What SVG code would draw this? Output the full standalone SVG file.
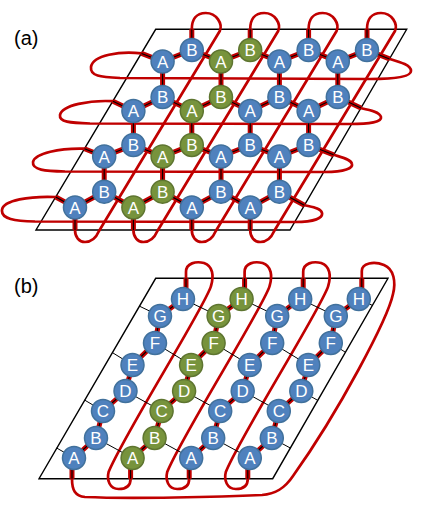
<svg xmlns="http://www.w3.org/2000/svg" width="436" height="505" viewBox="0 0 436 505">
<style>
.frame{fill:none;stroke:#000;stroke-width:1.4}
.loop{fill:none;stroke:#C00000;stroke-width:2.7;stroke-linecap:round;stroke-linejoin:round}
.lr{fill:none;stroke:#C00000;stroke-width:5}
.lb{fill:none;stroke:#000;stroke-width:1.1}
.thin{fill:none;stroke:#000;stroke-width:1}
.b circle{fill:#4F81BD;stroke:#41719C;stroke-width:1.5}
.g circle{fill:#77933C;stroke:#5E7530;stroke-width:1.5}
text{font-family:"Liberation Sans",Arial,sans-serif}
.n text{fill:#fff;font-size:17px;text-anchor:middle}
.lab{font-size:20px;fill:#000}
</style>
<defs>
<path id="linksA" d="M141.5 53.4 L162.6 61.5 L191.8 50 L221 61.5 L250.2 50 L279.4 61.5 L308.6 50 L337.8 61.5 L367 50 L389.5 58.9
M112.9 101.2 L133.4 111 L162.6 97 L191.8 111 L221 97 L250.2 111 L279.4 97 L308.6 111 L337.8 97 L360.9 108.1
M84.5 148.7 L104.2 156.5 L133.4 145 L162.6 156.5 L191.8 145 L221 156.5 L250.2 145 L279.4 156.5 L308.6 145 L333.6 154.8
M55.7 197 L75 207.5 L104.2 191.7 L133.4 207.5 L162.6 191.7 L191.8 207.5 L221 191.7 L250.2 207.5 L279.4 191.7 L304.4 205.2
M191.8 50 V29.3 M250.2 50 V29.3 M308.6 50 V29.3 M367 50 V29.3
M162.6 61.5 V97 M221 61.5 V97 M279.4 61.5 V97 M337.8 61.5 V97
M133.4 111 V145 M191.8 111 V145 M250.2 111 V145 M308.6 111 V145
M104.2 156.5 V191.7 M162.6 156.5 V191.7 M221 156.5 V191.7 M279.4 156.5 V191.7
M75 207.5 V230 M133.4 207.5 V230 M191.8 207.5 V230 M250.2 207.5 V230"/>
<path id="linksB" d="M72 458 V478.7 M74 458 L96 438 L103 411 L125.5 391 L132.5 365 L155 343 L160 316 L183 299 M186 299 V278.3
M130.6 458 V478.7 M132.6 458 L154.6 438 L161.6 411 L184.1 391 L191.1 365 L213.6 343 L218.6 316 L241.6 299 M244.6 299 V278.3
M189.2 458 V478.7 M191.2 458 L213.2 438 L220.2 411 L242.7 391 L249.7 365 L272.2 343 L277.2 316 L300.2 299 M303.2 299 V278.3
M247.8 458 V478.7 M249.8 458 L271.8 438 L278.8 411 L301.3 391 L308.3 365 L330.8 343 L335.8 316 L358.8 299 M361.8 299 V278.3"/>
</defs>

<text class="lab" x="14" y="45">(a)</text>
<text class="lab" x="14" y="293">(b)</text>

<g id="frames">
<path class="frame" d="M155.7 29.3 L406.7 29.3 L290 230 L36 230 Z"/>
<path class="frame" d="M155.7 278.3 L388 278.3 L272.7 478.7 L39 478.7 Z"/>
</g>

<g id="connectors">
<g id="loops-a">
<path class="loop" d="M141.5 53.4 C120 51 93 55 91 67 C90 76 100 77 120 78 L370 79 C395 79 411 77 411 71 C411 65 400 62 389.5 58.9"/>
<path class="loop" d="M112.9 101.2 C90 100 62 105 60 115 C59 122 70 123 90 123.5 L350 124 C370 124 382 122 381 117 C380 112 370 110 360.9 108.1"/>
<path class="loop" d="M84.5 148.7 C60 148 35 153 33 162 C32 170 45 171 65 171.5 L325 172 C345 172 353 168 352 164 C351 159 340 157 333.6 154.8"/>
<path class="loop" d="M55.7 197 C30 196 3 200 2 210 C1 219 15 221 35 221.5 L295 222 C315 222 323 218 322 213 C321 208 312 207 304.4 205.2"/>
<path class="loop" d="M75 230 C75 237 79 242 85 242 C91 242 96 238 99 231 L219.8 31 C222.8 24 216.8 13 205.8 13 C195.8 13 191.8 20 191.8 29.3"/>
<path class="loop" d="M133.4 230 C133.4 237 137.4 242 143.4 242 C149.4 242 154.4 238 157.4 231 L278.2 31 C281.2 24 275.2 13 264.2 13 C254.2 13 250.2 20 250.2 29.3"/>
<path class="loop" d="M191.8 230 C191.8 237 195.8 242 201.8 242 C207.8 242 212.8 238 215.8 231 L336.6 31 C339.6 24 333.6 13 322.6 13 C312.6 13 308.6 20 308.6 29.3"/>
<path class="loop" d="M250.2 230 C250.2 237 254.2 242 260.2 242 C266.2 242 271.2 238 274.2 231 L395 31 C398 24 392 13 381 13 C371 13 367 20 367 29.3"/>
</g>
<g id="loops-b">
<path class="loop" d="M186 278.3 L186 272 C186 263 196 261 204 263 C213 266 214 276 211 286 C206 305 123 436 108.6 472 C106.6 480 109.6 489 118.6 489 C126.6 489 130.6 485 130.6 478.7"/>
<path class="loop" d="M244.6 278.3 L244.6 272 C244.6 263 254.6 261 262.6 263 C271.6 266 272.6 276 269.6 286 C264.6 305 181.6 436 167.2 472 C165.2 480 168.2 489 177.2 489 C185.2 489 189.2 485 189.2 478.7"/>
<path class="loop" d="M303.2 278.3 L303.2 272 C303.2 263 313.2 261 321.2 263 C330.2 266 331.2 276 328.2 286 C323.2 305 240.2 436 225.8 472 C223.8 480 226.8 489 235.8 489 C243.8 489 247.8 485 247.8 478.7"/>
<path class="loop" d="M361.8 278.3 L361.8 271 C361.8 263 374 261 384 265 C394 269 396 282 393 294 C388 318 340 410 293 476 C285 488 276 494 262 495 C220 497 130 499 85 497 C75 496 72 490 72 478.7"/>
</g>
<g id="bonds-b-thin">
<path class="thin" d="M56.7 448 L74 458 M84.7 400.1 L103 411 M112.4 352.6 L132.5 365 M139.5 306.2 L160 316
M96 438 L132.6 458 M125.5 391 L161.6 411 M155 343 L191.1 365 M183 299 L218.6 316
M154.6 438 L191.2 458 M184.1 391 L220.2 411 M213.6 343 L249.7 365 M241.6 299 L277.2 316
M213.2 438 L249.8 458 M242.7 391 L278.8 411 M272.2 343 L308.3 365 M300.2 299 L335.8 316
M271.8 438 L290.3 448 M301.3 391 L317.8 400.4 M330.8 343 L345.5 352.3 M358.8 299 L372.4 305.4"/>
</g>
<g id="bonds">
<use href="#linksA" class="lr"/><use href="#linksA" class="lb"/>
<use href="#linksB" class="lr"/><use href="#linksB" class="lb"/>
</g>
</g>

<g id="nodes-a">
<g id="a0-0" class="n b"><circle cx="162.6" cy="61.5" r="11.5"/><text x="162.6" y="67.5">A</text></g>
<g id="a0-1" class="n b"><circle cx="191.8" cy="50" r="11.5"/><text x="191.8" y="56">B</text></g>
<g id="a0-2" class="n g"><circle cx="221" cy="61.5" r="11.5"/><text x="221" y="67.5">A</text></g>
<g id="a0-3" class="n g"><circle cx="250.2" cy="50" r="11.5"/><text x="250.2" y="56">B</text></g>
<g id="a0-4" class="n b"><circle cx="279.4" cy="61.5" r="11.5"/><text x="279.4" y="67.5">A</text></g>
<g id="a0-5" class="n b"><circle cx="308.6" cy="50" r="11.5"/><text x="308.6" y="56">B</text></g>
<g id="a0-6" class="n b"><circle cx="337.8" cy="61.5" r="11.5"/><text x="337.8" y="67.5">A</text></g>
<g id="a0-7" class="n b"><circle cx="367" cy="50" r="11.5"/><text x="367" y="56">B</text></g>

<g id="a1-0" class="n b"><circle cx="133.4" cy="111" r="11.5"/><text x="133.4" y="117">A</text></g>
<g id="a1-1" class="n b"><circle cx="162.6" cy="97" r="11.5"/><text x="162.6" y="103">B</text></g>
<g id="a1-2" class="n g"><circle cx="191.8" cy="111" r="11.5"/><text x="191.8" y="117">A</text></g>
<g id="a1-3" class="n g"><circle cx="221" cy="97" r="11.5"/><text x="221" y="103">B</text></g>
<g id="a1-4" class="n b"><circle cx="250.2" cy="111" r="11.5"/><text x="250.2" y="117">A</text></g>
<g id="a1-5" class="n b"><circle cx="279.4" cy="97" r="11.5"/><text x="279.4" y="103">B</text></g>
<g id="a1-6" class="n b"><circle cx="308.6" cy="111" r="11.5"/><text x="308.6" y="117">A</text></g>
<g id="a1-7" class="n b"><circle cx="337.8" cy="97" r="11.5"/><text x="337.8" y="103">B</text></g>

<g id="a2-0" class="n b"><circle cx="104.2" cy="156.5" r="11.5"/><text x="104.2" y="162.5">A</text></g>
<g id="a2-1" class="n b"><circle cx="133.4" cy="145" r="11.5"/><text x="133.4" y="151">B</text></g>
<g id="a2-2" class="n g"><circle cx="162.6" cy="156.5" r="11.5"/><text x="162.6" y="162.5">A</text></g>
<g id="a2-3" class="n g"><circle cx="191.8" cy="145" r="11.5"/><text x="191.8" y="151">B</text></g>
<g id="a2-4" class="n b"><circle cx="221" cy="156.5" r="11.5"/><text x="221" y="162.5">A</text></g>
<g id="a2-5" class="n b"><circle cx="250.2" cy="145" r="11.5"/><text x="250.2" y="151">B</text></g>
<g id="a2-6" class="n b"><circle cx="279.4" cy="156.5" r="11.5"/><text x="279.4" y="162.5">A</text></g>
<g id="a2-7" class="n b"><circle cx="308.6" cy="145" r="11.5"/><text x="308.6" y="151">B</text></g>

<g id="a3-0" class="n b"><circle cx="75" cy="207.5" r="11.5"/><text x="75" y="213.5">A</text></g>
<g id="a3-1" class="n b"><circle cx="104.2" cy="191.7" r="11.5"/><text x="104.2" y="197.7">B</text></g>
<g id="a3-2" class="n g"><circle cx="133.4" cy="207.5" r="11.5"/><text x="133.4" y="213.5">A</text></g>
<g id="a3-3" class="n g"><circle cx="162.6" cy="191.7" r="11.5"/><text x="162.6" y="197.7">B</text></g>
<g id="a3-4" class="n b"><circle cx="191.8" cy="207.5" r="11.5"/><text x="191.8" y="213.5">A</text></g>
<g id="a3-5" class="n b"><circle cx="221" cy="191.7" r="11.5"/><text x="221" y="197.7">B</text></g>
<g id="a3-6" class="n b"><circle cx="250.2" cy="207.5" r="11.5"/><text x="250.2" y="213.5">A</text></g>
<g id="a3-7" class="n b"><circle cx="279.4" cy="191.7" r="11.5"/><text x="279.4" y="197.7">B</text></g>
</g>

<g id="nodes-b">
<g id="b1-A" class="n b"><circle cx="74" cy="458" r="11.5"/><text x="74" y="464">A</text></g>
<g id="b1-B" class="n b"><circle cx="96" cy="438" r="11.5"/><text x="96" y="444">B</text></g>
<g id="b1-C" class="n b"><circle cx="103" cy="411" r="11.5"/><text x="103" y="417">C</text></g>
<g id="b1-D" class="n b"><circle cx="125.5" cy="391" r="11.5"/><text x="125.5" y="397">D</text></g>
<g id="b1-E" class="n b"><circle cx="132.5" cy="365" r="11.5"/><text x="132.5" y="371">E</text></g>
<g id="b1-F" class="n b"><circle cx="155" cy="343" r="11.5"/><text x="155" y="349">F</text></g>
<g id="b1-G" class="n b"><circle cx="160" cy="316" r="11.5"/><text x="160" y="322">G</text></g>
<g id="b1-H" class="n b"><circle cx="183" cy="299" r="11.5"/><text x="183" y="305">H</text></g>

<g id="b2-A" class="n g"><circle cx="132.6" cy="458" r="11.5"/><text x="132.6" y="464">A</text></g>
<g id="b2-B" class="n g"><circle cx="154.6" cy="438" r="11.5"/><text x="154.6" y="444">B</text></g>
<g id="b2-C" class="n g"><circle cx="161.6" cy="411" r="11.5"/><text x="161.6" y="417">C</text></g>
<g id="b2-D" class="n g"><circle cx="184.1" cy="391" r="11.5"/><text x="184.1" y="397">D</text></g>
<g id="b2-E" class="n g"><circle cx="191.1" cy="365" r="11.5"/><text x="191.1" y="371">E</text></g>
<g id="b2-F" class="n g"><circle cx="213.6" cy="343" r="11.5"/><text x="213.6" y="349">F</text></g>
<g id="b2-G" class="n g"><circle cx="218.6" cy="316" r="11.5"/><text x="218.6" y="322">G</text></g>
<g id="b2-H" class="n g"><circle cx="241.6" cy="299" r="11.5"/><text x="241.6" y="305">H</text></g>

<g id="b3-A" class="n b"><circle cx="191.2" cy="458" r="11.5"/><text x="191.2" y="464">A</text></g>
<g id="b3-B" class="n b"><circle cx="213.2" cy="438" r="11.5"/><text x="213.2" y="444">B</text></g>
<g id="b3-C" class="n b"><circle cx="220.2" cy="411" r="11.5"/><text x="220.2" y="417">C</text></g>
<g id="b3-D" class="n b"><circle cx="242.7" cy="391" r="11.5"/><text x="242.7" y="397">D</text></g>
<g id="b3-E" class="n b"><circle cx="249.7" cy="365" r="11.5"/><text x="249.7" y="371">E</text></g>
<g id="b3-F" class="n b"><circle cx="272.2" cy="343" r="11.5"/><text x="272.2" y="349">F</text></g>
<g id="b3-G" class="n b"><circle cx="277.2" cy="316" r="11.5"/><text x="277.2" y="322">G</text></g>
<g id="b3-H" class="n b"><circle cx="300.2" cy="299" r="11.5"/><text x="300.2" y="305">H</text></g>

<g id="b4-A" class="n b"><circle cx="249.8" cy="458" r="11.5"/><text x="249.8" y="464">A</text></g>
<g id="b4-B" class="n b"><circle cx="271.8" cy="438" r="11.5"/><text x="271.8" y="444">B</text></g>
<g id="b4-C" class="n b"><circle cx="278.8" cy="411" r="11.5"/><text x="278.8" y="417">C</text></g>
<g id="b4-D" class="n b"><circle cx="301.3" cy="391" r="11.5"/><text x="301.3" y="397">D</text></g>
<g id="b4-E" class="n b"><circle cx="308.3" cy="365" r="11.5"/><text x="308.3" y="371">E</text></g>
<g id="b4-F" class="n b"><circle cx="330.8" cy="343" r="11.5"/><text x="330.8" y="349">F</text></g>
<g id="b4-G" class="n b"><circle cx="335.8" cy="316" r="11.5"/><text x="335.8" y="322">G</text></g>
<g id="b4-H" class="n b"><circle cx="358.8" cy="299" r="11.5"/><text x="358.8" y="305">H</text></g>
</g>
</svg>
